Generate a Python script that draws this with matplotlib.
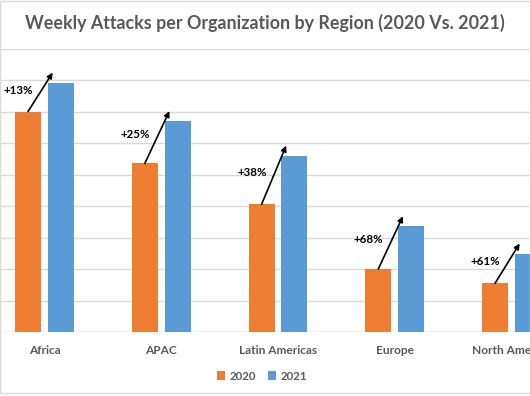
import matplotlib.pyplot as plt
import numpy as np
from matplotlib.patches import Rectangle

categories = ["Africa", "APAC", "Latin Americas", "Europe", "North America"]
values_2020 = [1400, 1070, 810, 400, 309]
values_2021 = [1582, 1338, 1118, 670, 497]
changes = ["+13%", "+25%", "+38%", "+68%", "+61%"]
series_labels = ["2020", "2021"]
title = "Weekly Attacks per Organization by Region (2020 Vs. 2021)"

plt.rcParams['font.family'] = ['Lato', 'DejaVu Sans']

C20 = "#ED7D31"
C21 = "#5B9BD5"
GRAY = "#595959"

fig = plt.figure(figsize=(5.30, 3.96), dpi=100)
ax = fig.add_axes([0, (396 - 332) / 396, 1, (332 - 48.5) / 396])

x = np.arange(len(categories))
bw = 0.223
off = 0.141
ax.bar(x - off, values_2020, bw, color=C20, label=series_labels[0], zorder=3)
ax.bar(x + off, values_2021, bw, color=C21, label=series_labels[1], zorder=3)

ax.set_xlim(-44.5 / 116.75, (530 - 44.5) / 116.75)
ax.set_ylim(0, 1800)
ax.set_yticks(np.arange(0, 1801, 200))
ax.yaxis.grid(True, color="#D9D9D9", linewidth=1.0, zorder=0)
ax.tick_params(axis='y', left=False, labelleft=False)
ax.tick_params(axis='x', bottom=False, labelbottom=False)
for s in ax.spines.values():
    s.set_visible(False)
ax.axhline(0, color="#D9D9D9", linewidth=1.0, zorder=2)

# category labels
for i, c in enumerate(categories):
    ax.annotate(c, (i, 0), xytext=(0, -13), textcoords="offset points",
                ha="center", va="center", fontsize=8.6, fontweight="bold",
                color=GRAY, annotation_clip=False)

# arrows and change labels
for i in range(len(categories)):
    x0, y0 = i - off, values_2020[i]
    x1, y1 = i + 0.07, values_2021[i] + 65
    ax.annotate("", xy=(x1, y1), xytext=(x0, y0),
                arrowprops=dict(arrowstyle="-|>", color="black", lw=1.2,
                                mutation_scale=8, shrinkA=0, shrinkB=0),
                zorder=5)
    f = 0.55
    xm, ym = x0 + f * (x1 - x0), y0 + f * (y1 - y0)
    ax.annotate(changes[i], (xm, ym), xytext=(-6, 0), textcoords="offset points",
                ha="right", va="center", fontsize=8.3, fontweight="bold",
                color="black", zorder=6)

fig.text(0.5, 1 - 23 / 396, title, ha="center", va="center", fontsize=12.9,
         fontweight="bold", color=GRAY)

leg = fig.legend(loc="center", bbox_to_anchor=(262 / 530, 1 - 376 / 396), ncol=2,
                 frameon=False, fontsize=8.3, handlelength=0.7, handleheight=0.7,
                 columnspacing=1.0, handletextpad=0.4)
for t in leg.get_texts():
    t.set_color(GRAY)
    t.set_fontweight("bold")

fig.patches.append(Rectangle((0, 3 / 396), 1, 392 / 396, transform=fig.transFigure,
                             fill=False, edgecolor="#D9D9D9", linewidth=1.0))

fig.savefig("out.png", dpi=100)
